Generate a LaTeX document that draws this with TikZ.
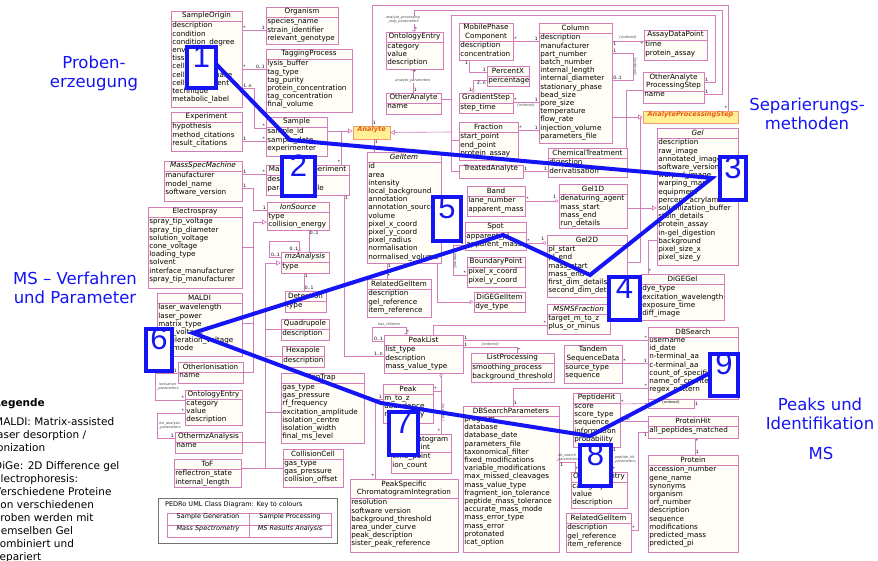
\documentclass[tikz,border=0pt]{standalone}
\usepackage{fontspec}
\setmainfont{DejaVu Sans}
\newfontfamily\numfont{Liberation Sans}
\usetikzlibrary{fit,arrows.meta}
\definecolor{pk}{RGB}{210,125,185}
\definecolor{cream}{RGB}{255,253,246}
\definecolor{bl}{RGB}{20,20,245}
\definecolor{ylw}{RGB}{255,240,150}
\definecolor{org}{RGB}{235,90,20}
\tikzset{
 clsbox/.style={draw=pk, fill=cream, inner sep=0pt, line width=0.7pt},
 yel/.style={draw=org!60, fill=ylw, inner sep=0pt, line width=0.7pt, text=org, font=\fontsize{6.6}{7}\selectfont\bfseries\itshape},
 ttl/.style={font=\fontsize{7.2}{8.2}\selectfont, align=center, inner sep=0pt},
 att/.style={font=\fontsize{7.2}{8.2}\selectfont, align=left, inner xsep=1.2pt, inner ysep=1.3pt},
 conn/.style={draw=pk, line width=0.6pt},
 mult/.style={font=\fontsize{4.5}{5}\selectfont, inner sep=0.6pt},
 role/.style={font=\fontsize{3.5}{4}\selectfont\itshape, text=black!70, inner sep=0.3pt, align=center},
 gen/.style={conn, -{Triangle[open, length=4.5pt, width=5pt]}},
 aggr/.style={conn, -{Diamond[open, length=4.5pt, width=3.5pt]}},
 nav/.style={conn, -{To[length=2pt]}},
 numbox/.style={draw=bl, line width=3.5pt, fill=white, inner sep=0pt, font=\numfont\fontsize{31}{31}\selectfont, text=bl},
 bigtxt/.style={font=\fontsize{16.5}{19}\selectfont, text=bl, align=center, inner sep=0pt},
 leg/.style={font=\fontsize{10.5}{13}\selectfont, align=left, anchor=north west, inner sep=0pt},
 blueline/.style={draw=bl, line width=4pt, line join=miter},
}
% #1 name, #2 x1, #3 y1, #4 x2, #5 y2, #6 title height, #7 title, #8 attributes
\newcommand\uml[8]{%
 \node[clsbox, fit={(#2,#3)(#4,#5)}] (#1) {};
 \draw[pk, line width=0.6pt] (#2,#3+#6) -- (#4,#3+#6);
 \node[ttl] at ({(#2+#4)/2},{#3+#6/2}) {#7};
 \node[att, anchor=north west] at (#2,#3+#6) {#8};
}
\begin{document}
\catcode`\_=12
\begin{tikzpicture}[x=1pt,y=-1pt]
\useasboundingbox (0,0) rectangle (878,561);
\fill[white] (0,0) rectangle (878,561);

% ---------------- classes ----------------
\uml{so}{171}{11}{242}{107}{10}{SampleOrigin}{description\\condition\\condition_degree\\environment\\tissue_type\\cell_type\\cell_cycle_phase\\cell_component\\technique\\metabolic_label}
\uml{org}{266}{7}{338}{44}{10}{Organism}{species_name\\strain_identifier\\relevant_genotype}
\uml{tag}{266}{49}{352}{112}{10}{TaggingProcess}{lysis_buffer\\tag_type\\tag_purity\\protein_concentration\\tag_concentration\\final_volume}
\uml{exp}{171}{112}{242}{151}{10}{Experiment}{hypothesis\\method_citations\\result_citations}
\uml{smp}{266}{117}{327}{156}{10}{Sample}{sample_id\\sample_date\\experimenter}
\uml{msm}{164}{161}{242}{201}{10}{\itshape MassSpecMachine}{manufacturer\\model_name\\software_version}
\uml{mse}{266}{165}{349}{195}{10}{MassSpecExperiment}{description\\parameters_file}
\uml{esi}{148}{207}{242}{288}{10}{Electrospray}{spray_tip_voltage\\spray_tip_diameter\\solution_voltage\\cone_voltage\\loading_type\\solvent\\interface_manufacturer\\spray_tip_manufacturer}
\uml{mal}{157}{293}{242}{356}{10}{MALDI}{laser_wavelength\\laser_power\\matrix_type\\grid_voltage\\acceleration_voltage\\ion_mode}
\uml{oio}{178}{362}{243}{383}{10}{OtherIonisation}{name}
\uml{oetwo}{185}{390}{242}{425}{9}{OntologyEntry}{category\\value\\description}
\uml{omz}{175}{432}{242}{453}{10}{OthermzAnalysis}{name}
\uml{tof}{174}{459}{241}{487}{10}{ToF}{reflectron_state\\internal_length}
\uml{ion}{267}{202}{329}{230}{10}{\itshape IonSource}{type\\collision_energy}
\uml{mza}{281}{252}{329}{273}{10}{\itshape mzAnalysis}{type}
\uml{det}{285}{291}{326}{312}{10}{Detection}{type}
\uml{qua}{281}{319}{329}{340}{10}{Quadrupole}{description}
\uml{hex}{282}{346}{324}{367}{10}{Hexapole}{description}
\uml{itr}{281}{373}{364}{443}{10}{IonTrap}{gas_type\\gas_pressure\\rf_frequency\\excitation_amplitude\\isolation_centre\\isolation_width\\final_ms_level}
\uml{cc}{283}{449}{343}{487}{10}{CollisionCell}{gas_type\\gas_pressure\\collision_offset}
\uml{oeone}{386}{32}{443}{69}{10}{OntologyEntry}{category\\value\\description}
\uml{oan}{386}{93}{441}{114}{10}{OtherAnalyte}{name}
\uml{gi}{367}{152}{441}{263}{10}{\itshape GelItem}{id\\area\\intensity\\local_background\\annotation\\annotation_source\\volume\\pixel_x_coord\\pixel_y_coord\\pixel_radius\\normalisation\\normalised_volume}
\uml{rgone}{367}{279}{431}{317}{10}{RelatedGelItem}{description\\gel_reference\\item_reference}
\uml{pl}{384}{335}{463}{373}{10}{PeakList}{list_type\\description\\mass_value_type}
\uml{peak}{383}{384}{433}{423}{10}{Peak}{m_to_z\\abundance\\multiplicity}
\uml{chp}{391}{434}{451}{473}{18}{Chromatogram\\Point}{time_point\\ion_count}
\uml{psc}{350}{479}{458}{552}{19}{PeakSpecific\\ChromatogramIntegration}{resolution\\software version\\background_threshold\\area_under_curve\\peak_description\\sister_peak_reference}
\uml{mpc}{459}{23}{513}{60}{18}{MobilePhase\\Component}{description\\concentration}
\uml{pcx}{487}{66}{529}{86}{10}{PercentX}{percentage}
\uml{gst}{459}{93}{513}{113}{10}{GradientStep}{step_time}
\uml{fra}{459}{122}{518}{160}{10}{Fraction}{start_point\\end_point\\protein_assay}
\node[clsbox, fit={(459,165)(523,178)}, font=\fontsize{7.2}{8}\selectfont] (tra) {TreatedAnalyte};
\uml{clm}{539}{23}{612}{143}{10}{Column}{description\\manufacturer\\part_number\\batch_number\\internal_length\\internal_diameter\\stationary_phase\\bead_size\\pore_size\\temperature\\flow_rate\\injection_volume\\parameters_file}
\uml{cht}{548}{148}{627}{177}{10}{ChemicalTreatment}{digestion\\derivatisation}
\uml{adp}{644}{30}{707}{60}{10}{AssayDataPoint}{time\\protein_assay}
\uml{oaps}{643}{72}{704}{103}{19}{OtherAnalyte\\ProcessingStep}{name}
\node[yel, fit={(643,111)(738,123)}] (aps) {AnalyteProcessingStep};
\node[yel, fit={(353,126)(390,139)}] (ana) {Analyte};
\uml{gel}{657}{128}{738}{265}{10}{\itshape Gel}{description\\raw_image\\annotated_image\\software_version\\warped_image\\warping_map\\equipment\\percent_acrylamide\\solubilization_buffer\\stain_details\\protein_assay\\in-gel_digestion\\background\\pixel_size_x\\pixel_size_y}
\uml{band}{467}{186}{525}{216}{10}{Band}{lane_number\\apparent_mass}
\uml{gone}{559}{184}{627}{228}{10}{Gel1D}{denaturing_agent\\mass_start\\mass_end\\run_details}
\uml{spot}{465}{222}{526}{250}{10}{Spot}{apparent_pI\\apparent_mass}
\uml{gtwo}{547}{235}{627}{297}{10}{Gel2D}{pI_start\\pI_end\\mass_start\\mass_end\\first_dim_details\\second_dim_details}
\uml{bp}{467}{257}{525}{287}{10}{BoundaryPoint}{pixel_x_coord\\pixel_y_coord}
\uml{dgi}{474}{292}{525}{312}{10}{DiGEGelItem}{dye_type}
\uml{dgg}{641}{274}{724}{320}{10}{DiGEGel}{dye_type\\excitation_wavelength\\exposure_time\\diff_image}
\uml{msf}{547}{304}{610}{334}{10}{\itshape MSMSFraction}{target_m_to_z\\plus_or_minus}
\uml{lp}{471}{353}{554}{382}{10}{ListProcessing}{smoothing_process\\background_threshold}
\uml{tsd}{564}{345}{622}{383}{18}{Tandem\\SequenceData}{source_type\\sequence}
\uml{dbs}{648}{327}{738}{399}{10}{DBSearch}{username\\id_date\\n-terminal_aa\\c-terminal_aa\\count_of_specific_aa\\name_of_counted_aa\\regex_pattern}
\node[clsbox, fit={(648,399)(694,408)}, font=\fontsize{3.5}{4}\selectfont, label={[mult]right:1}] (dbq) {\{ordered\}};
\uml{ph}{573}{393}{620}{447}{10}{PeptideHit}{score\\score_type\\sequence\\information\\probability}
\uml{prh}{648}{416}{738}{438}{10}{ProteinHit}{all_peptides_matched}
\uml{prot}{648}{455}{738}{552}{10}{Protein}{accession_number\\gene_name\\synonyms\\organism\\orf_number\\description\\sequence\\modifications\\predicted_mass\\predicted_pi}
\uml{dbp}{463}{406}{559}{552}{10}{DBSearchParameters}{program\\database\\database_date\\parameters_file\\taxonomical_filter\\fixed_modifications\\variable_modifications\\max_missed_cleavages\\mass_value_type\\fragment_ion_tolerance\\peptide_mass_tolerance\\accurate_mass_mode\\mass_error_type\\mass_error\\protonated\\icat_option}
\uml{oethree}{571}{472}{627}{508}{10}{OntologyEntry}{category\\value\\description}
\uml{rgtwo}{566}{513}{631}{552}{10}{RelatedGelItem}{description\\gel_reference\\item_reference}

% ---------------- connectors ----------------
\draw[conn] (so.east |- 0,30) node[mult, above right]{*} -- (org.west |- 0,30) node[mult, above left]{1};
\draw[conn] (so.east |- 0,69) node[mult, above right]{*} -- (tag.west |- 0,69) node[mult, above left]{0..1};
\draw[conn] (so.east |- 0,88) node[mult, above right]{1..n} -- (254,88) -- (254,128) -- (smp.west |- 0,128) node[mult, above left]{*};
\draw[conn] (exp.east |- 0,141) node[mult, above right]{1} -- (smp.west |- 0,141) node[mult, above left]{*};
\draw[conn] (msm.east |- 0,174) node[mult, above right]{1} -- (mse.west |- 0,174) node[mult, above left]{*};
\draw[gen] (smp.east |- 0,131) -- (ana.west |- 0,131);
\draw[conn] (341,131) -- (mse.north -| 341,0) node[mult, above left]{*};
\draw[conn] (ana.south -| 374,0) node[mult, below right]{1} -- (gi.north -| 374,0);
\draw[conn] (ana.north -| 372,0) node[mult, above right]{1} -- (372,5) -- (728,5) -- (aps.north -| 728,0) node[mult, above left]{*};
\draw[nav] (oaps.east |- 0,94) node[mult, above right]{1} -- (722,94) -- (722,10) -- (414,10) -- (oeone.north -| 414,0) node[mult, above right]{*};
\node[role, fill=white] (rapsp) at (403,20) {analyte_processing\\_step_parameters};
\draw[conn] (oaps.east |- 0,82) node[mult, above right]{1} -- (715,82) -- (715,15) -- (451,15) -- (451,99);
\draw[nav] (oan.north -| 413,0) node[mult, above right]{1} -- node[role, fill=white]{analyte_parameters} (oeone.south -| 413,0) node[mult, below right]{*};
\draw[gen] (451,132) -- (ana.east);
\draw[conn] (oan.east |- 0,99) -- (451,99) -- (451,171) -- (tra.west |- 0,171);
\draw[conn] (451,140) -- (fra.west |- 0,140);
\draw[conn] (mse.south -| 344,0) node[mult, below right]{1} -- (344,356) -- (pl.west |- 0,356) node[mult, above left]{1..n};

\draw[conn] (mpc.east |- 0,41) node[mult, above right]{*} -- (clm.west |- 0,41) node[mult, above left]{1};
\draw[conn] (mpc.south -| 469,0) node[mult, below left]{1} -- (469,72) -- (pcx.west |- 0,72) node[mult, above left]{1};
\draw[aggr] (pcx.west |- 0,80) node[mult, below left]{2..n} -- (473,80) -- (gst.north -| 473,0) node[mult, above left]{1};
\draw[conn] (gst.east |- 0,102) node[mult, above right]{*} -- node[role, below=1pt]{\{ordered\}} (clm.west |- 0,102) node[mult, above left]{1};
\draw[conn] (fra.east |- 0,130) node[mult, above right]{*} -- (clm.west |- 0,130) node[mult, above left]{1};
\draw[conn] (tra.east |- 0,171) node[mult, above right]{1} -- (cht.west |- 0,171) node[mult, above left]{1};
\draw[conn] (clm.east |- 0,41) node[mult, below right]{1} -- node[role, above=1pt]{\{ordered\}} (adp.west |- 0,41) node[mult, below left]{*};
\draw[conn] (clm.east |- 0,53) node[mult, above right]{1} -- (633,53) -- node[role, rotate=-90, anchor=south]{\{ordered\}} (633,80) -- (clm.east |- 0,80) node[mult, above right]{0..1};
\draw[gen] (clm.east |- 0,117) -- (aps.west |- 0,117);
\draw[conn] (oaps.west |- 0,90) -- (626,90) -- (cht.north -| 626,0);
\draw[conn] (640,117) -- (640,262) -- (gtwo.east |- 0,262);
\draw[gen] (gone.east |- 0,208) -- (gel.west |- 0,208);
\draw[aggr] (band.east |- 0,201) node[mult, above right]{*} -- (gone.west |- 0,201) node[mult, above left=1.5pt]{1};
\draw[aggr] (spot.east |- 0,243) node[mult, above right]{*} -- (gtwo.west |- 0,243) node[mult, above left=1.5pt]{1};
\draw[conn] (gel.west |- 0,240) -- (648,240) -- (dgg.north -| 648,0) node[mult, above right]{*};
\draw[conn] (spot.west |- 0,245) node[mult, above left]{1} -- (453,245) -- node[role, rotate=-90, anchor=south]{\{ordered\}} (453,275) -- (bp.west |- 0,275) node[mult, above left]{*};
\draw[conn] (gi.south -| 387,0) node[mult, below right]{1} -- (rgone.north -| 387,0) node[mult, above right]{*};
\draw[conn, -{Triangle[open, length=4pt, width=4pt]}] (gi.south -| 437,0) -- (437,302) -- (dgi.west |- 0,302);

\draw[nav] (pl.west |- 0,341) node[mult, above left]{0..1} -- (372,341) -- (372,327) -- node[role, above=0.5pt]{has_children} (406,327) -- (pl.north -| 406,0) node[mult, above right]{*};
\draw[conn] (pl.north -| 433,0) -- (433,325) -- (msf.west |- 0,325) node[mult, above left]{*};
\draw[conn] (pl.east |- 0,340) node[mult, above right]{1} -- (dbs.west |- 0,340) node[mult, above left]{*};
\draw[conn] (pl.east |- 0,347) node[mult, above right]{1} -- node[role, above=0.5pt]{\{ordered\}} (517,347) -- (lp.north -| 517,0) node[mult, above right]{*};
\draw[conn] (tsd.east |- 0,363) node[mult, above right]{*} -- (dbs.west |- 0,363) node[mult, above left]{1};
\draw[conn, {Diamond[open, length=4.5pt, width=3.5pt]}-] (pl.south -| 441,0) -- (441,391) -- (peak.east |- 0,391) node[mult, above right]{*};
\draw[conn] (441,391) -- node[role, rotate=-90, anchor=south]{\{ordered\}} (chp.north -| 441,0) node[mult, above left]{*};
\draw[conn] (peak.west |- 0,399) node[mult, above left]{1} -- (375,399) -- (psc.north -| 375,0) node[mult, above left]{*};
\draw[conn] (dbs.west |- 0,388) node[mult, above left]{*} -- (513,388) -- (dbp.north -| 513,0) node[mult, above right]{1};
\draw[conn] (ph.east |- 0,404) node[mult, above right]{*} -- (dbq.west);
\draw[conn] (ph.east |- 0,421) node[mult, above right]{1..n} -- (prh.west |- 0,421);
\draw[conn] (prh.south -| 695,0) node[mult, below right]{*} -- (prot.north -| 695,0) node[mult, above right]{1};
\draw[conn] (rgtwo.east |- 0,530) node[mult, above right]{*} -- (638,530) -- (638,432) -- (prh.west |- 0,432) node[mult, below left]{1};
\draw[conn] (dbp.east |- 0,462) node[mult, below right]{1} -- node[role, above=0.5pt]{db_search\\_parameters} (575,462) -- (oethree.north -| 575,0) node[mult, above right]{*};
\draw[conn] (ph.south -| 612,0) node[mult, below right]{1} -- node[role, right=1pt]{peptide_hit\\_parameters} (oethree.north -| 612,0) node[mult, above right]{*};

\draw[conn] (msm.east |- 0,188) node[mult, above right]{1} -- (253,188) -- (253,210) -- (ion.west |- 0,210) node[mult, above left]{1};
\draw[gen] (253,222) -- (ion.west |- 0,222);
\draw[conn] (253,222) -- (253,372) -- (oio.east |- 0,372);
\draw[conn] (esi.east |- 0,247) -- (253,247);
\draw[conn] (mal.east |- 0,323) -- (253,323);
\draw[gen] (265,263) -- (mza.west |- 0,263);
\draw[conn] (265,263) -- (265,468) -- (cc.west |- 0,468);
\draw[conn] (qua.west) -- (qua.west -| 265,0);
\draw[conn] (hex.west) -- (hex.west -| 265,0);
\draw[conn] (itr.west |- 0,412) -- (265,412);
\draw[conn] (omz.east |- 0,442) -- (265,442);
\draw[conn] (tof.east |- 0,468) -- (265,468);
\draw[conn] (ion.south -| 309,0) node[mult, below right]{0..1} -- (mza.north -| 309,0);
\draw[nav] (mza.west |- 0,257) node[mult, above left]{0..1} -- (269,257) -- (269,241) -- (299,241) -- (mza.north -| 299,0) node[mult, above left]{0..1};
\draw[conn] (mza.south -| 304,0) node[mult, below right]{1} -- (det.north -| 304,0) node[mult, above right]{0..1};
\draw[conn] (oio.west |- 0,373) node[mult, above left]{1} -- (155,373) -- node[role, right=1pt]{ionisation\\_parameters} (155,400) -- (oetwo.west |- 0,400) node[mult, above left]{*};
\draw[conn] (omz.west |- 0,438) node[mult, above left]{1} -- (157,438) -- node[role, right=1pt]{mz_analysis\\_parameters} (157,413) -- (oetwo.west |- 0,413) node[mult, above left]{*};

% ---------------- key to colours ----------------
\node[draw=black!55, line width=0.8pt, fit={(158,498)(337,543)}, inner sep=0pt] (key) {};
\node[anchor=west, font=\fontsize{6.5}{8}\selectfont, inner sep=0pt] (keyt) at (165,505) {PEDRo UML Class Diagram: Key to colours};
\node[draw=pk, fit={(167,513)(249,525)}, inner sep=0pt, font=\fontsize{6.5}{8}\selectfont] (kone) {Sample Generation};
\node[draw=pk, fit={(249,513)(331,525)}, inner sep=0pt, font=\fontsize{6.5}{8}\selectfont] (ktwo) {Sample Processing};
\node[draw=pk, fit={(167,525)(249,537)}, inner sep=0pt, font=\fontsize{6.5}{8}\selectfont\itshape] (kthree) {Mass Spectrometry};
\node[draw=pk, fit={(249,525)(331,537)}, inner sep=0pt, font=\fontsize{6.5}{8}\selectfont\itshape] (kfour) {MS Results Analysis};

% ---------------- blue overlay ----------------
\coordinate (pa) at (216,64);
\coordinate (pb) at (290,140);
\coordinate (pc) at (712,178);
\coordinate (pd) at (590,275);
\coordinate (pe) at (503,235);
\coordinate (pf) at (193,333);
\coordinate (pg) at (381,403);
\coordinate (ph8) at (590,436);
\coordinate (pi) at (712,372);
\draw[blueline] (pa) -- (pb) -- (pc) -- (pd) -- (pe) -- (pf) -- (pg) -- (ph8) -- (pi);

\node[numbox, fit={(187,47)(216,88)}] (nA) {1};
\node[numbox, fit={(282,157)(315,196)}] (nB) {2};
\node[numbox, fit={(720,157)(746,200)}] (nC) {3};
\node[numbox, fit={(609,277)(640,320)}] (nD) {4};
\node[numbox, fit={(433,197)(461,241)}] (nE) {5};
\node[numbox, fit={(146,329)(172,371)}] (nF) {6};
\node[numbox, fit={(389,412)(418,455)}] (nG) {7};
\node[numbox, fit={(580,445)(611,486)}] (nH) {8};
\node[numbox, fit={(710,354)(738,396)}] (nI) {9};

\node[bigtxt] (tA) at (94,73) {Proben-\\erzeugung};
\node[bigtxt] (tB) at (807,114) {Separierungs-\\methoden};
\node[bigtxt] (tC) at (75,288) {MS – Verfahren\\und Parameter};
\node[bigtxt] (tD) at (820,414) {Peaks und\\Identifikation};
\node[bigtxt] (tE) at (821,453) {MS};

\node[leg] (legend) at (-6,398) {\textbf{Legende}\\[6pt]
MALDI: Matrix-assisted\\laser desorption /\\ionization\\[5pt]
DiGe: 2D Difference gel\\electrophoresis:\\Verschiedene Proteine\\von verschiedenen\\Proben werden mit\\demselben Gel\\kombiniert und\\separiert};
\end{tikzpicture}
\end{document}
